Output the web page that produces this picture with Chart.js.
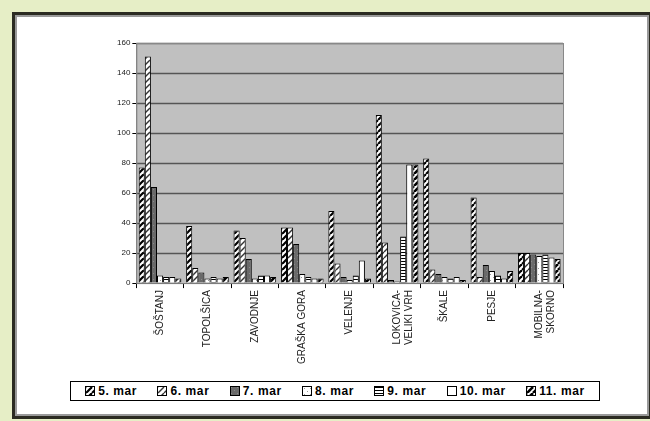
<!DOCTYPE html>
<html>
<head>
<meta charset="utf-8">
<script src="https://cdn.jsdelivr.net/npm/chart.js@4.4.0/dist/chart.umd.min.js"></script>
<style>
    html, body { margin: 0; padding: 0; }
    body { width: 650px; height: 421px; background: #e6eec6; position: relative; overflow: hidden; }
    #okvir {
        position: absolute; left: 12px; top: 12px; width: 640px; height: 407px;
        border: 3px solid #2b2b22; box-sizing: border-box; background: #fff;
        box-shadow: inset 2px 2px 0 #9a9a9a, inset -2px -2px 0 #9a9a9a;
    }
    #graf { position: absolute; left: 18px; top: 18px; }
    #legenda {
        position: absolute; left: 70px; top: 381px; width: 530px; height: 20px;
        border: 1px solid #000; box-sizing: border-box; background: #fff;
        display: flex; justify-content: space-around; align-items: center;
        font: bold 12px 'Liberation Sans', Arial, sans-serif; color: #000;
        letter-spacing: 0.6px; padding: 0 4px;
    }
    #legenda span { display: flex; align-items: center; white-space: nowrap; }
    #legenda canvas { border: 1px solid #000; margin-right: 3px; }
</style>
</head>
<body>
<div id="okvir"></div>
<canvas id="graf" width="626" height="396"></canvas>
<div id="legenda"></div>
<script>
// kraji (kategorije)
const kraji = ['ŠOŠTANJ', 'TOPOLŠICA', 'ZAVODNJE', 'GRAŠKA GORA', 'VELENJE',
    ['LOKOVICA-', 'VELIKI VRH'], 'ŠKALE', 'PESJE', ['MOBILNA-', 'SKORNO']];

// meritve po dnevih
const dan5 = [77, 38, 35, 37, 48, 112, 83, 57, 20];
const dan6 = [151, 10, 30, 37, 13, 27, 9, 4, 20];
const dan7 = [64, 7, 16, 26, 4, 2, 6, 12, 19];
const dan8 = [5, 3, 3, 6, 2, 1, 4, 8, 18];
const dan9 = [4, 4, 5, 4, 5, 31, 3, 5, 19];
const dan10 = [4, 3, 5, 3, 15, 79, 4, 3, 17];
const dan11 = [3, 4, 4, 3, 3, 79, 2, 8, 16];

const oznake = ['5. mar', '6. mar', '7. mar', '8. mar', '9. mar', '10. mar', '11. mar'];
const yTicks = [0, 20, 40, 60, 80, 100, 120, 140, 160];

function narisiVzorec(g, tip, s) {
    g.fillStyle = '#fff';
    g.fillRect(0, 0, s, s);
    g.strokeStyle = '#000';
    g.fillStyle = '#000';
    if (tip === 'diag' || tip === 'diag2' || tip === 'diag3') {
        g.lineWidth = tip === 'diag' ? 2.2 : (tip === 'diag2' ? 1.4 : 2.6);
        if (tip === 'diag2') g.strokeStyle = '#333';
        for (let k = -s; k <= s; k += 6) {
            g.beginPath();
            g.moveTo(k, s);
            g.lineTo(k + s, 0);
            g.stroke();
        }
    } else if (tip === 'siva') {
        g.fillStyle = '#6a6a6a';
        g.fillRect(0, 0, s, s);
        g.fillStyle = '#8a8a8a';
        for (let i = 0; i < s; i += 3) g.fillRect(i, i, 1, 1);
    } else if (tip === 'pike') {
        g.fillStyle = '#999';
        for (let i = 1; i < s; i += 3) g.fillRect(i, i, 1, 1);
    } else if (tip === 'vodo') {
        for (let i = 0; i < s; i += 3) g.fillRect(0, i, s, 1);
    }
}

function vzorec(tip) {
    const c = document.createElement('canvas');
    c.width = 6; c.height = 6;
    const g = c.getContext('2d');
    narisiVzorec(g, tip, 6);
    return g.createPattern(c, 'repeat');
}

const tipi = ['diag', 'diag2', 'siva', 'pike', 'vodo', 'bela', 'diag3'];
const ctxG = document.getElementById('graf').getContext('2d');
const vzorci = tipi.map(vzorec);
const podatki = [dan5, dan6, dan7, dan8, dan9, dan10, dan11];

// legenda v HTML
const leg = document.getElementById('legenda');
oznake.forEach((o, i) => {
    const sp = document.createElement('span');
    const sw = document.createElement('canvas');
    sw.width = 8; sw.height = 8;
    const g = sw.getContext('2d');
    g.fillStyle = vzorci[i];
    g.fillRect(0, 0, 8, 8);
    sp.appendChild(sw);
    sp.appendChild(document.createTextNode(o));
    leg.appendChild(sp);
});

const ozadje = {
    id: 'ozadje',
    beforeDatasetsDraw(chart) {
        const a = chart.chartArea;
        const c = chart.ctx;
        c.save();
        c.fillStyle = '#c0c0c0';
        c.fillRect(a.left, a.top, a.right - a.left, a.bottom - a.top);
        c.strokeStyle = '#555';
        c.lineWidth = 1.5;
        const y = chart.scales.y;
        yTicks.forEach(v => {
            if (v === 0) return;
            const py = Math.round(y.getPixelForValue(v)) + 0.5;
            c.beginPath(); c.moveTo(a.left, py); c.lineTo(a.right, py); c.stroke();
        });
        c.strokeStyle = '#888';
        c.lineWidth = 1;
        c.strokeRect(a.left + 0.5, a.top + 0.5, a.right - a.left, a.bottom - a.top);
        c.restore();
    }
};

new Chart(ctxG, {
    type: 'bar',
    data: {
        labels: kraji,
        datasets: podatki.map((d, i) => ({
            label: oznake[i],
            data: d,
            backgroundColor: vzorci[i],
            borderColor: '#000',
            borderWidth: 1,
            barPercentage: 1,
            categoryPercentage: 0.9
        }))
    },
    options: {
        responsive: false,
        animation: false,
        layout: { padding: { left: 97, right: 81, top: 25, bottom: 48 } },
        plugins: {
            legend: { display: false },
            tooltip: { enabled: false }
        },
        scales: {
            x: {
                grid: { display: true, drawOnChartArea: false, color: '#000', tickLength: 5, offset: true },
                border: { color: '#000' },
                ticks: {
                    maxRotation: 90,
                    minRotation: 90,
                    color: '#222',
                    padding: 2,
                    font: { family: 'Liberation Sans, Arial', size: 10 }
                }
            },
            y: {
                min: 0,
                max: 160,
                afterBuildTicks: (ax) => { ax.ticks = yTicks.map(v => ({ value: v })); },
                grid: { display: true, drawOnChartArea: false, color: '#000', tickLength: 4 },
                border: { color: '#000' },
                ticks: {
                    color: '#222',
                    padding: 2,
                    font: { family: 'Liberation Sans, Arial', size: 8 }
                }
            }
        }
    },
    plugins: [ozadje]
});
</script>
</body>
</html>
